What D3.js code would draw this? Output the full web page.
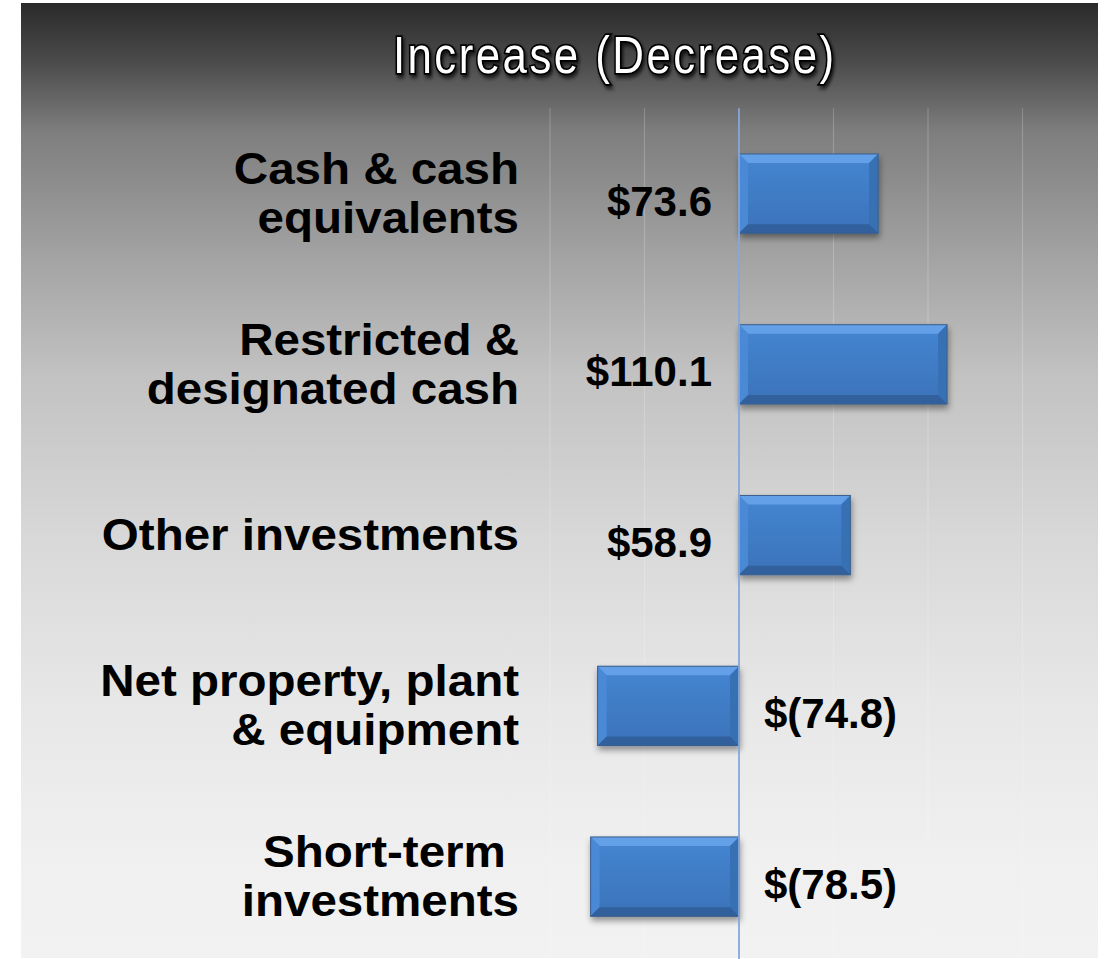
<!DOCTYPE html>
<html>
<head>
<meta charset="utf-8">
<script src="https://cdn.jsdelivr.net/npm/d3@7"></script>
<style>
  body { margin: 0; background: #fff; }
  text { font-family: "Liberation Sans", Arial, sans-serif; }
</style>
</head>
<body>
<div id="chart"></div>
<script>
// values (millions)
const categories = [
  "Cash & cash\nequivalents",
  "Restricted &\ndesignated cash",
  "Other investments",
  "Net property, plant\n& equipment",
  "Short-term \ninvestments"
];
const values = [73.6, 110.1, 58.9, -74.8, -78.5];
const valueLabels = ["$73.6", "$110.1", "$58.9", "$(74.8)", "$(78.5)"];
const xTicks = [-100, -50, 0, 50, 100, 150];
const title = "Increase (Decrease)";

function graph(id) {
  let width = 1109, height = 959;
  let svg = d3.select(id).append("svg")
    .attr("width", width)
    .attr("height", height);

  let defs = svg.append("defs");

  // slide background: dark at the top fading to near white
  let bg = defs.append("linearGradient").attr("id", "bg")
    .attr("x1", 0).attr("y1", 0).attr("x2", 0).attr("y2", 1);
  [[0, "#2a2a2a"], [0.06, "#4a4a4a"], [0.135, "#7e7e7e"], [0.27, "#a4a4a4"],
   [0.39, "#c2c2c2"], [0.56, "#d8d8d8"], [0.73, "#e7e7e7"], [0.9, "#f0f0f0"], [1, "#f2f2f2"]]
    .forEach(s => bg.append("stop").attr("offset", s[0]).attr("stop-color", s[1]));

  let barFill = defs.append("linearGradient").attr("id", "barFill")
    .attr("x1", 0).attr("y1", 0).attr("x2", 0).attr("y2", 1);
  barFill.append("stop").attr("offset", 0).attr("stop-color", "#4585d2");
  barFill.append("stop").attr("offset", 1).attr("stop-color", "#3b73b9");

  let shadow = defs.append("filter").attr("id", "shadow")
    .attr("x", "-10%").attr("y", "-10%").attr("width", "130%").attr("height", "140%");
  shadow.append("feDropShadow").attr("dx", 1).attr("dy", 4)
    .attr("stdDeviation", 3).attr("flood-color", "#000").attr("flood-opacity", 0.4);

  let titleShadow = defs.append("filter").attr("id", "titleShadow")
    .attr("x", "-10%").attr("y", "-30%").attr("width", "120%").attr("height", "170%");
  titleShadow.append("feDropShadow").attr("dx", 2).attr("dy", 3)
    .attr("stdDeviation", 2).attr("flood-color", "#000").attr("flood-opacity", 0.75);

  svg.append("rect")
    .attr("x", 21).attr("y", 3)
    .attr("width", 1077).attr("height", 955)
    .attr("fill", "url(#bg)");

  let x = d3.scaleLinear().domain([-100, 150]).range([550, 1022.5]);
  let y = d3.scaleBand().domain(categories).range([108.3, 962])
    .paddingInner(0.535).paddingOuter(0.2675);

  let plot = svg.append("g");

  // vertical gridlines
  plot.selectAll("line.grid")
    .data(xTicks.filter(d => d !== 0)).enter()
    .append("line")
    .attr("class", "grid")
    .attr("x1", d => x(d)).attr("x2", d => x(d))
    .attr("y1", 108.3).attr("y2", 962)
    .attr("stroke", "#ffffff").attr("stroke-opacity", 0.2).attr("stroke-width", 1.2);

  // bevelled bars
  let b = 9;
  let bars = plot.selectAll("g.bar")
    .data(values).enter()
    .append("g")
    .attr("class", "bar")
    .attr("filter", "url(#shadow)");

  bars.each(function (d, i) {
    let g = d3.select(this);
    let x0 = x(Math.min(0, d)), x1 = x(Math.max(0, d));
    let y0 = y(categories[i]), y1 = y0 + y.bandwidth();
    g.append("rect")
      .attr("x", x0).attr("y", y0)
      .attr("width", x1 - x0).attr("height", y1 - y0)
      .attr("fill", "url(#barFill)");
    let faces = [
      { pts: [[x0, y0], [x1, y0], [x1 - b, y0 + b], [x0 + b, y0 + b]], c: "#63a0e8" },
      { pts: [[x0, y0], [x0 + b, y0 + b], [x0 + b, y1 - b], [x0, y1]], c: "#4a89d5" },
      { pts: [[x1, y0], [x1, y1], [x1 - b, y1 - b], [x1 - b, y0 + b]], c: "#3770b4" },
      { pts: [[x0, y1], [x0 + b, y1 - b], [x1 - b, y1 - b], [x1, y1]], c: "#30609d" }
    ];
    faces.forEach(f => g.append("polygon")
      .attr("points", f.pts.map(p => p.join(",")).join(" "))
      .attr("fill", f.c));
    g.append("rect")
      .attr("x", x0).attr("y", y0)
      .attr("width", x1 - x0).attr("height", y1 - y0)
      .attr("fill", "none").attr("stroke", "#3b5f8c").attr("stroke-width", 1);
  });

  // zero line
  plot.append("line")
    .attr("x1", x(0)).attr("x2", x(0))
    .attr("y1", 108.3).attr("y2", 962)
    .attr("stroke", "#86a8d8").attr("stroke-width", 1.8);

  // value labels
  plot.selectAll("text.value")
    .data(values).enter()
    .append("text")
    .attr("class", "value")
    .attr("x", d => d >= 0 ? x(0) - 27 : x(0) + 25)
    .attr("y", (d, i) => y(categories[i]) + y.bandwidth() / 2 + 22)
    .attr("text-anchor", d => d >= 0 ? "end" : "start")
    .attr("font-size", 42)
    .attr("font-weight", "bold")
    .attr("fill", "#000")
    .text((d, i) => valueLabels[i]);

  // category labels, right aligned
  let cats = svg.selectAll("g.cat")
    .data(categories).enter()
    .append("g")
    .attr("class", "cat")
    .attr("transform", d => {
      let cy = y(d) + y.bandwidth() / 2;
      return `translate(519,${cy}) scale(1.08,1)`;
    });
  cats.append("text")
    .attr("text-anchor", "end")
    .attr("font-size", 44)
    .attr("font-weight", "bold")
    .attr("fill", "#000")
    .style("white-space", "pre")
    .each(function (d) {
      let lines = d.split("\n");
      let lh = 49;
      let first = 15 - (lines.length - 1) * lh / 2;
      lines.forEach((l, k) => d3.select(this).append("tspan")
        .attr("x", 0).attr("y", first + k * lh).text(l));
    });

  // title, white with a dark outline and drop shadow
  svg.append("g")
    .attr("transform", "translate(613.5,73) scale(0.86,1)")
    .append("text")
    .attr("text-anchor", "middle")
    .attr("font-size", 51)
    .attr("textLength", 513).attr("lengthAdjust", "spacing")
    .attr("fill", "#fff")
    .attr("stroke", "#000").attr("stroke-width", 3.5)
    .style("paint-order", "stroke")
    .attr("filter", "url(#titleShadow)")
    .text(title);
}

graph("#chart");
</script>
</body>
</html>
